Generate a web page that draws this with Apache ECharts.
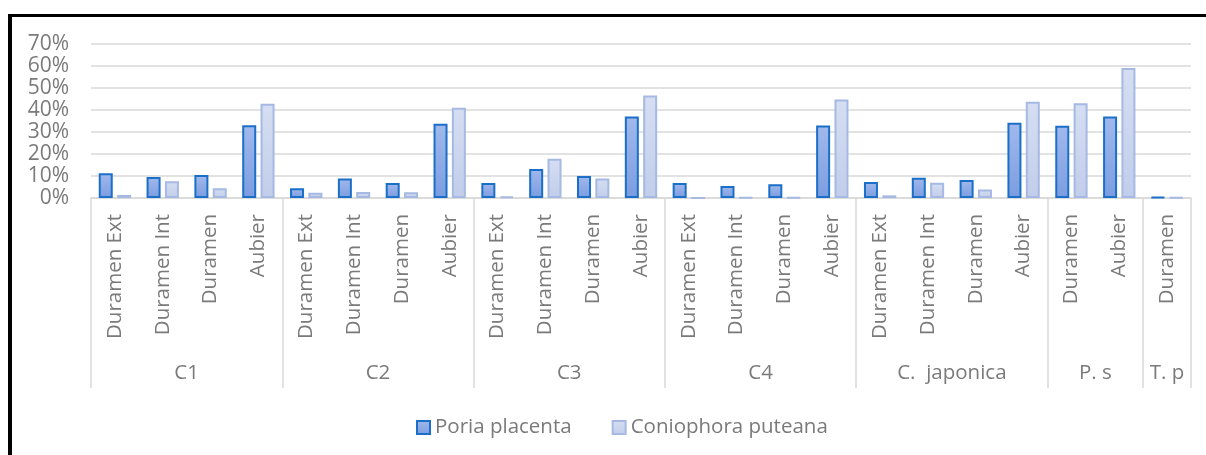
<!DOCTYPE html>
<html>
<head>
<meta charset="utf-8">
<script src="https://cdn.jsdelivr.net/npm/echarts@6/dist/echarts.min.js"></script>
<style>
  html, body { margin: 0; padding: 0; background: #fff; }
  #frame {
    position: absolute; left: 8px; top: 14px; right: 0; bottom: 0;
    border-left: 4px solid #000; border-top: 3px solid #000;
  }
  #chart { position: absolute; left: 0; top: 0; width: 1206px; height: 455px; }
</style>
</head>
<body>
<div id="frame"></div>
<div id="chart"></div>
<script>
// sub-categories (inner axis level)
const categories = [
  'Duramen Ext', 'Duramen Int', 'Duramen', 'Aubier',
  'Duramen Ext', 'Duramen Int', 'Duramen', 'Aubier',
  'Duramen Ext', 'Duramen Int', 'Duramen', 'Aubier',
  'Duramen Ext', 'Duramen Int', 'Duramen', 'Aubier',
  'Duramen Ext', 'Duramen Int', 'Duramen', 'Aubier',
  'Duramen', 'Aubier',
  'Duramen'
]
// outer axis level
const groupNames = ['C1', 'C2', 'C3', 'C4', 'C.  japonica', 'P. s', 'T. p']
const groupSizes = [4, 4, 4, 4, 4, 2, 1]

const poriaPlacenta = [
  11.3, 9.5, 10.4, 33.1,
  4.4, 8.9, 6.8, 33.7,
  6.8, 13.2, 10.0, 37.1,
  6.8, 5.4, 6.2, 33.0,
  7.3, 9.2, 8.2, 34.2,
  32.8, 37.1,
  0.4
]
const coniophoraPuteana = [
  1.4, 7.6, 4.4, 42.8,
  2.4, 2.7, 2.6, 41.0,
  0.6, 17.8, 8.9, 46.6,
  0.0, 0.3, 0.3, 44.8,
  1.2, 6.9, 3.9, 43.7,
  43.1, 59.1,
  0.3
]
const yTicks = [0, 10, 20, 30, 40, 50, 60, 70]

const textColor = '#7a7a7a'
const lineColor = '#d9d9d9'
const font = 'Open Sans'

// group boundaries and centres on a 0..n value scale
const boundaries = [0]
const centres = []
groupSizes.forEach(n => {
  const start = boundaries[boundaries.length - 1]
  centres.push(start + n / 2)
  boundaries.push(start + n)
})

const chart = echarts.init(document.getElementById('chart'))
chart.setOption({
  animation: false,
  textStyle: { fontFamily: font },
  grid: { left: 91, right: 15, top: 44, bottom: 257 },
  legend: {
    left: 411,
    top: 412,
    icon: 'rect',
    itemWidth: 13,
    itemHeight: 13,
    itemGap: 40,
    textStyle: { color: textColor, fontSize: 20.5, fontFamily: font },
    data: ['Poria placenta', 'Coniophora puteana']
  },
  xAxis: [
    {
      type: 'category',
      data: categories,
      axisLine: { lineStyle: { color: lineColor, width: 1.5 } },
      axisTick: { show: false },
      axisLabel: {
        interval: 0,
        rotate: 90,
        margin: 16,
        color: textColor,
        fontSize: 20.5,
        fontFamily: font
      }
    },
    {
      type: 'value',
      position: 'bottom',
      min: 0,
      max: categories.length,
      axisLine: { show: false },
      splitLine: { show: false },
      axisTick: {
        show: true,
        customValues: boundaries,
        length: 190,
        lineStyle: { color: lineColor, width: 1.5 }
      },
      axisLabel: {
        customValues: centres,
        margin: 165,
        color: textColor,
        fontSize: 20.5,
        fontFamily: font,
        formatter: v => groupNames[centres.indexOf(v)] || ''
      }
    }
  ],
  yAxis: {
    type: 'value',
    min: yTicks[0],
    max: yTicks[yTicks.length - 1],
    interval: 10,
    axisLine: { show: false },
    axisTick: { show: false },
    splitLine: { lineStyle: { color: lineColor, width: 1.5 } },
    axisLabel: {
      margin: 22,
      color: textColor,
      fontSize: 21,
      fontFamily: font,
      formatter: '{value}%'
    }
  },
  series: [
    {
      name: 'Poria placenta',
      type: 'bar',
      data: poriaPlacenta,
      barWidth: 14,
      barGap: '31%',
      itemStyle: {
        color: new echarts.graphic.LinearGradient(0, 0, 0, 1, [
          { offset: 0, color: '#a1b9ec' },
          { offset: 1, color: '#7b9de0' }
        ]),
        borderColor: '#1b6fc8',
        borderWidth: 2
      }
    },
    {
      name: 'Coniophora puteana',
      type: 'bar',
      data: coniophoraPuteana,
      barWidth: 14,
      itemStyle: {
        color: new echarts.graphic.LinearGradient(0, 0, 0, 1, [
          { offset: 0, color: '#d5def2' },
          { offset: 1, color: '#c1cdea' }
        ]),
        borderColor: '#a6b9e3',
        borderWidth: 2
      }
    }
  ]
})
</script>
</body>
</html>
